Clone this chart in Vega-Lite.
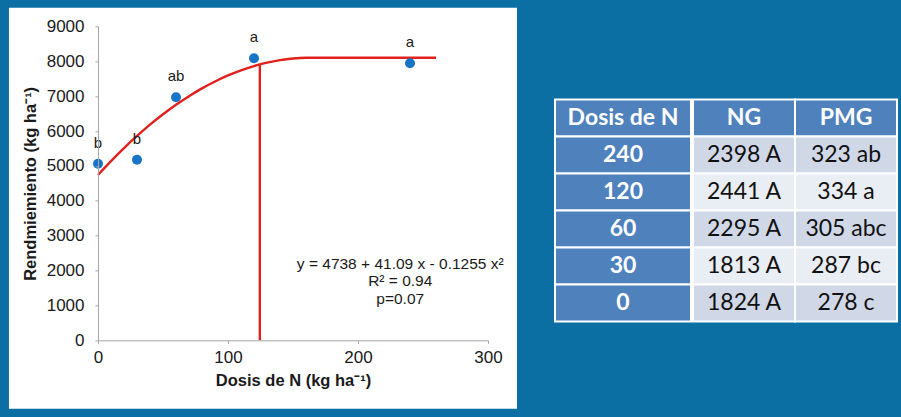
{
  "$schema": "https://vega.github.io/schema/vega-lite/v6.json",
  "background": "#0b6fa3",
  "padding": {"left": 8, "top": 7, "right": 8, "bottom": 9},
  "center": true,
  "spacing": 37,
  "config": {
    "view": {"stroke": null},
    "font": "Liberation Sans",
    "axis": {
      "grid": false,
      "domainColor": "#a6a6a6",
      "tickColor": "#a6a6a6",
      "tickSize": 3,
      "labelFont": "Liberation Sans",
      "labelFontSize": 17,
      "labelColor": "#1a1a1a",
      "labelFlush": false,
      "labelOverlap": false,
      "titleFont": "Liberation Sans",
      "titleFontSize": 16.5,
      "titleFontWeight": "bold",
      "titleColor": "#1a1a1a"
    },
    "axisX": {"titlePadding": 7.5, "labelPadding": 6},
    "axisY": {"titlePadding": 8, "labelPadding": 11}
  },
  "datasets": {
    "points": [
      {"dose": 0, "yield": 5060, "letter": "b"},
      {"dose": 30, "yield": 5175, "letter": "b"},
      {"dose": 60, "yield": 6970, "letter": "ab"},
      {"dose": 120, "yield": 8085, "letter": "a"},
      {"dose": 240, "yield": 7940, "letter": "a"}
    ],
    "fit": [
      {"dose": 0, "yield": 4738},
      {"dose": 10, "yield": 5136},
      {"dose": 20, "yield": 5510},
      {"dose": 30, "yield": 5858},
      {"dose": 40, "yield": 6181},
      {"dose": 50, "yield": 6479},
      {"dose": 60, "yield": 6752},
      {"dose": 70, "yield": 6999},
      {"dose": 80, "yield": 7222},
      {"dose": 90, "yield": 7420},
      {"dose": 100, "yield": 7592},
      {"dose": 110, "yield": 7739},
      {"dose": 120, "yield": 7862},
      {"dose": 130, "yield": 7959},
      {"dose": 140, "yield": 8031},
      {"dose": 150, "yield": 8078},
      {"dose": 160, "yield": 8100},
      {"dose": 163.7, "yield": 8101},
      {"dose": 260, "yield": 8101}
    ],
    "optimum": [{"dose": 124.5, "yield": 7895}],
    "equation": [{"dose": 232.5, "yield": 2198, "lines": ["y = 4738 + 41.09 x - 0.1255 x²", "R² = 0.94", "p=0.07"]}],
    "table": [
      {"row": "h", "col": "Dosis de N", "text": "Dosis de N"},
      {"row": "h", "col": "NG", "text": "NG"},
      {"row": "h", "col": "PMG", "text": "PMG"},
      {"row": "240", "col": "Dosis de N", "text": "240"},
      {"row": "240", "col": "NG", "text": "2398 A"},
      {"row": "240", "col": "PMG", "text": "323 ab"},
      {"row": "120", "col": "Dosis de N", "text": "120"},
      {"row": "120", "col": "NG", "text": "2441 A"},
      {"row": "120", "col": "PMG", "text": "334 a"},
      {"row": "60", "col": "Dosis de N", "text": "60"},
      {"row": "60", "col": "NG", "text": "2295 A"},
      {"row": "60", "col": "PMG", "text": "305 abc"},
      {"row": "30", "col": "Dosis de N", "text": "30"},
      {"row": "30", "col": "NG", "text": "1813 A"},
      {"row": "30", "col": "PMG", "text": "287 bc"},
      {"row": "0", "col": "Dosis de N", "text": "0"},
      {"row": "0", "col": "NG", "text": "1824 A"},
      {"row": "0", "col": "PMG", "text": "278 c"}
    ]
  },
  "hconcat": [
    {
      "width": 390,
      "height": 314,
      "layer": [
        {
          "data": {"values": [{}]},
          "mark": {"type": "rect", "fill": "white"},
          "encoding": {
            "x": {"datum": -68.5, "type": "quantitative", "title": "Dosis de N (kg ha⁻¹)", "scale": {"domain": [0, 300], "nice": false, "zero": false}, "axis": {"values": [0, 100, 200, 300], "format": "d", "zindex": 2, "labelOverlap": false, "labelFlush": false}},
            "x2": {"datum": 322.3},
            "y": {"datum": 9536, "type": "quantitative", "title": "Rendmiemiento (kg ha⁻¹)", "scale": {"domain": [0, 9000], "nice": false, "zero": false}, "axis": {"values": [0, 1000, 2000, 3000, 4000, 5000, 6000, 7000, 8000, 9000], "tickCount": 10, "format": "d", "zindex": 2, "labelOverlap": false, "labelFlush": false}},
            "y2": {"datum": -1958}
          }
        },
        {
          "data": {"name": "fit"},
          "mark": {"type": "line", "color": "#e2201c", "strokeWidth": 2.4, "interpolate": "monotone"},
          "encoding": {
            "x": {"field": "dose", "type": "quantitative", "title": "Dosis de N (kg ha⁻¹)"},
            "y": {"field": "yield", "type": "quantitative", "title": "Rendmiemiento (kg ha⁻¹)"}
          }
        },
        {
          "data": {"name": "optimum"},
          "mark": {"type": "rule", "color": "#e2201c", "strokeWidth": 2.4},
          "encoding": {
            "x": {"field": "dose", "type": "quantitative", "title": "Dosis de N (kg ha⁻¹)"},
            "y": {"field": "yield", "type": "quantitative", "title": "Rendmiemiento (kg ha⁻¹)"},
            "y2": {"datum": 0}
          }
        },
        {
          "data": {"name": "points"},
          "mark": {"type": "point", "filled": true, "opacity": 1, "size": 100, "color": "#1874c6"},
          "encoding": {
            "x": {"field": "dose", "type": "quantitative", "title": "Dosis de N (kg ha⁻¹)", "axis": {"values": [0, 100, 200, 300], "format": "d", "zindex": 2, "labelOverlap": false, "labelFlush": false}},
            "y": {"field": "yield", "type": "quantitative", "title": "Rendmiemiento (kg ha⁻¹)", "axis": {"values": [0, 1000, 2000, 3000, 4000, 5000, 6000, 7000, 8000, 9000], "tickCount": 10, "format": "d", "zindex": 2, "labelOverlap": false, "labelFlush": false}}
          }
        },
        {
          "data": {"name": "points"},
          "mark": {"type": "text", "fontSize": 15, "color": "#1a1a1a", "dy": -21, "baseline": "middle"},
          "encoding": {
            "x": {"field": "dose", "type": "quantitative", "title": "Dosis de N (kg ha⁻¹)"},
            "y": {"field": "yield", "type": "quantitative", "title": "Rendmiemiento (kg ha⁻¹)"},
            "text": {"field": "letter"}
          }
        },
        {
          "data": {"name": "equation"},
          "mark": {"type": "text", "fontSize": 15.5, "color": "#1a1a1a", "align": "center", "baseline": "middle", "lineHeight": 17.5},
          "encoding": {
            "x": {"field": "dose", "type": "quantitative", "title": "Dosis de N (kg ha⁻¹)"},
            "y": {"field": "yield", "type": "quantitative", "title": "Rendmiemiento (kg ha⁻¹)"},
            "text": {"field": "lines"}
          }
        }
      ]
    },
    {
      "spacing": 0,
      "hconcat": [
        {
          "width": 136,
          "height": 236,
          "data": {"name": "table"},
          "transform": [{"filter": "datum.col === 'Dosis de N'"}],
          "encoding": {
            "x": {"field": "col", "type": "nominal", "scale": {"paddingInner": 0, "paddingOuter": 0}, "axis": null},
            "y": {"field": "row", "type": "nominal", "sort": ["h", "240", "120", "60", "30", "0"], "scale": {"paddingInner": 0, "paddingOuter": 0.189, "align": 0}, "axis": null}
          },
          "layer": [
            {"mark": {"type": "rect", "fill": "#4f81bd", "stroke": "white", "strokeWidth": 2}},
            {"mark": {"type": "text", "font": "Lato", "fontSize": 23, "fontWeight": "bold", "color": "white"}, "encoding": {"text": {"field": "text"}}}
          ]
        },
        {
          "width": 204,
          "height": 236,
          "data": {"name": "table"},
          "transform": [{"filter": "datum.col !== 'Dosis de N'"}],
          "encoding": {
            "x": {"field": "col", "type": "nominal", "sort": ["NG", "PMG"], "scale": {"paddingInner": 0, "paddingOuter": 0}, "axis": null},
            "y": {"field": "row", "type": "nominal", "sort": ["h", "240", "120", "60", "30", "0"], "scale": {"paddingInner": 0, "paddingOuter": 0.189, "align": 0}, "axis": null}
          },
          "layer": [
            {
              "mark": {"type": "rect", "stroke": "white", "strokeWidth": 2, "opacity": 1},
              "encoding": {
                "color": {"field": "row", "type": "nominal", "legend": null, "scale": {"domain": ["h", "240", "120", "60", "30", "0"], "range": ["#4f81bd", "#d0d8e8", "#e9edf4", "#d0d8e8", "#e9edf4", "#d0d8e8"]}}
              }
            },
            {
              "transform": [{"filter": "datum.row === 'h'"}],
              "mark": {"type": "text", "font": "Lato", "fontSize": 23, "fontWeight": "bold", "color": "white"},
              "encoding": {"text": {"field": "text"}}
            },
            {
              "transform": [{"filter": "datum.row !== 'h'"}],
              "mark": {"type": "text", "font": "Lato", "fontSize": 23, "color": "#111111"},
              "encoding": {"text": {"field": "text"}}
            }
          ]
        }
      ]
    }
  ]
}
